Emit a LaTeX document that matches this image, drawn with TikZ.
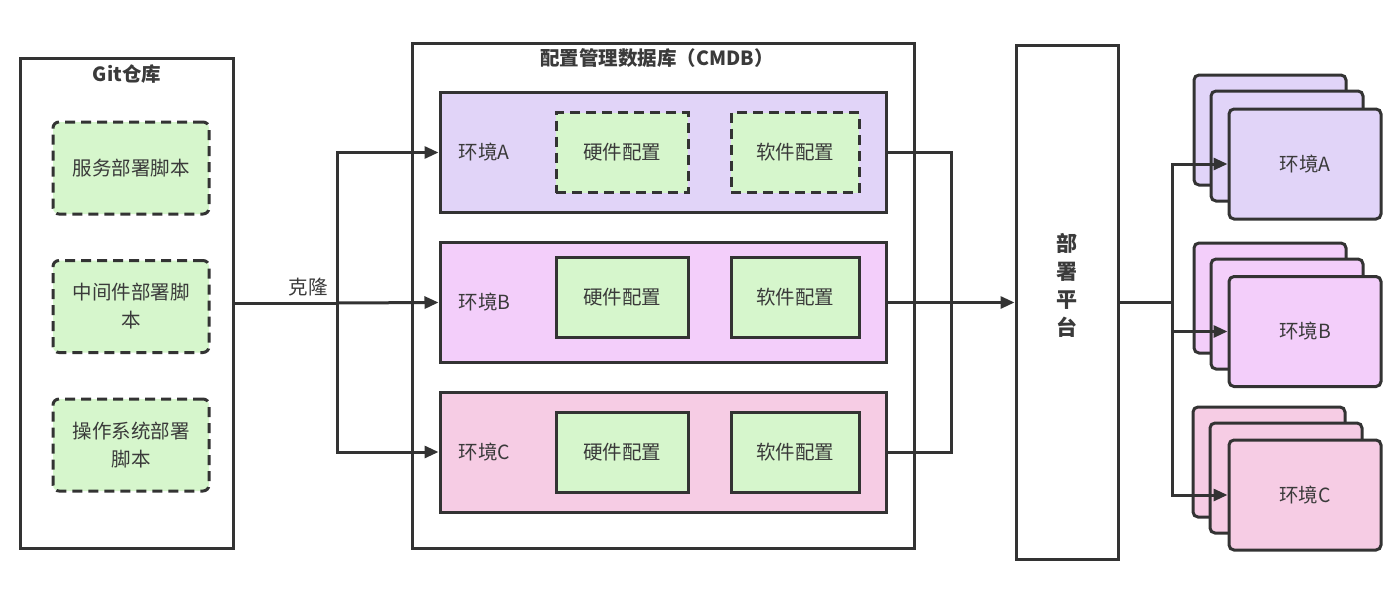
\documentclass[tikz,border=0pt]{standalone}
\usepackage{fontspec}
\setmainfont{Noto Sans CJK SC}
\usetikzlibrary{arrows.meta}
\definecolor{linec}{HTML}{333333}
\definecolor{txtc}{HTML}{3A3A3A}
\definecolor{envAc}{HTML}{E1D4F8}
\definecolor{envBc}{HTML}{F3CEFA}
\definecolor{envCc}{HTML}{F6CCE4}
\definecolor{greenc}{HTML}{D6F6CC}
\tikzset{
  frame/.style={draw=linec, line width=3pt, fill=white, inner sep=0pt},
  envbox/.style={draw=linec, line width=3pt, inner sep=0pt, minimum width=446pt, minimum height=120pt},
  cfgbox/.style={draw=linec, line width=3pt, fill=greenc, inner sep=0pt, minimum height=80pt, text=txtc, font=\fontsize{19.5}{23}\selectfont},
  dashbox/.style={cfgbox, dash pattern=on 10pt off 6pt},
  scriptbox/.style={draw=linec, line width=3pt, fill=greenc, rounded corners=6pt, dash pattern=on 10pt off 6pt, minimum width=156pt, minimum height=92pt, align=center, text=txtc, font=\fontsize{19.5}{28}\selectfont},
  envlabel/.style={anchor=west, text=txtc, font=\fontsize{19.5}{23}\selectfont},
  title/.style={text=txtc, font=\bfseries\fontsize{19.5}{23}\selectfont},
  stackbox/.style={draw=linec, line width=3pt, rounded corners=5pt, minimum width=152pt, minimum height=110pt, inner sep=0pt, text=txtc, font=\fontsize{19.5}{23}\selectfont},
  conn/.style={draw=linec, line width=3pt},
  arr/.style={conn, -{Triangle[length=14pt,width=12pt]}}
}
\begin{document}
\begin{tikzpicture}[x=1pt,y=-1pt]
\useasboundingbox[fill=white] (0,0) rectangle (1400,589);

% Git repository
\node[frame, minimum width=213pt, minimum height=490pt] (git) at (126.5,303) {};
\node[title] (gittitle) at (127,74) {Git仓库};
\node[scriptbox] (s1) at (131,168) {服务部署脚本};
\node[scriptbox] (s2) at (131,306.5) {中间件部署脚\\本};
\node[scriptbox] (s3) at (131,445) {操作系统部署\\脚本};

% CMDB
\node[frame, minimum width=502pt, minimum height=505pt] (cmdb) at (663,295.5) {};
\node[title] (cmdbtitle) at (657,58) {配置管理数据库（CMDB）};

\node[envbox, fill=envAc] (envA) at (663,152.5) {};
\node[envlabel] (labA) at (455,152.5) {环境A};
\node[dashbox, minimum width=132pt] (hwA) at (622,152.5) {硬件配置};
\node[dashbox, minimum width=128pt] (swA) at (795,152.5) {软件配置};

\node[envbox, fill=envBc] (envB) at (663,302.5) {};
\node[envlabel] (labB) at (455,302.5) {环境B};
\node[cfgbox, minimum width=132pt] (hwB) at (622,297) {硬件配置};
\node[cfgbox, minimum width=128pt] (swB) at (795,297) {软件配置};

\node[envbox, fill=envCc] (envC) at (663,452) {};
\node[envlabel] (labC) at (455,452) {环境C};
\node[cfgbox, minimum width=132pt] (hwC) at (622,452) {硬件配置};
\node[cfgbox, minimum width=128pt] (swC) at (795,452) {软件配置};

% Deploy platform
\node[frame, minimum width=102pt, minimum height=514pt] (deploy) at (1067,302) {};
\node[text=txtc, font=\bfseries\fontsize{21}{28}\selectfont, align=center] (deploylabel) at (1067,285) {部\\署\\平\\台};

% Target stacks
\node[stackbox, fill=envAc] (sAback) at (1270,130) {};
\node[stackbox, fill=envAc] (sAmid) at (1287,146) {};
\node[stackbox, fill=envAc] (sA) at (1305,164) {环境A};

\node[stackbox, fill=envBc] (sBback) at (1270,298) {};
\node[stackbox, fill=envBc] (sBmid) at (1287,314) {};
\node[stackbox, fill=envBc] (sB) at (1305,331.5) {环境B};

\node[stackbox, fill=envCc] (sCback) at (1269,462) {};
\node[stackbox, fill=envCc] (sCmid) at (1286,478) {};
\node[stackbox, fill=envCc] (sC) at (1305,495) {环境C};

% Clone connectors
\coordinate (cj) at (337,303);
\draw[conn] (git.east) -- (cj);
\node[text=txtc, font=\fontsize{19.5}{23}\selectfont] (clonelabel) at (308,287) {克隆};
\draw[arr] (cj) |- (envA.west);
\draw[arr] (cj) -- (envB.west);
\draw[arr] (cj) |- (envC.west);

% CMDB to deploy
\coordinate (rc) at (951,302.5);
\draw[conn] (envA.east) -| (rc);
\draw[conn] (envC.east) -| (rc);
\draw[arr] (envB.east) -- (deploy.west |- envB.east);

% Deploy to targets
\coordinate (oc) at (1172,302);
\draw[conn] (deploy.east) -- (oc);
\draw[arr] (oc) |- (sA.west);
\draw[arr] (oc) |- (sB.west);
\draw[arr] (oc) |- (sC.west);
\end{tikzpicture}
\end{document}
